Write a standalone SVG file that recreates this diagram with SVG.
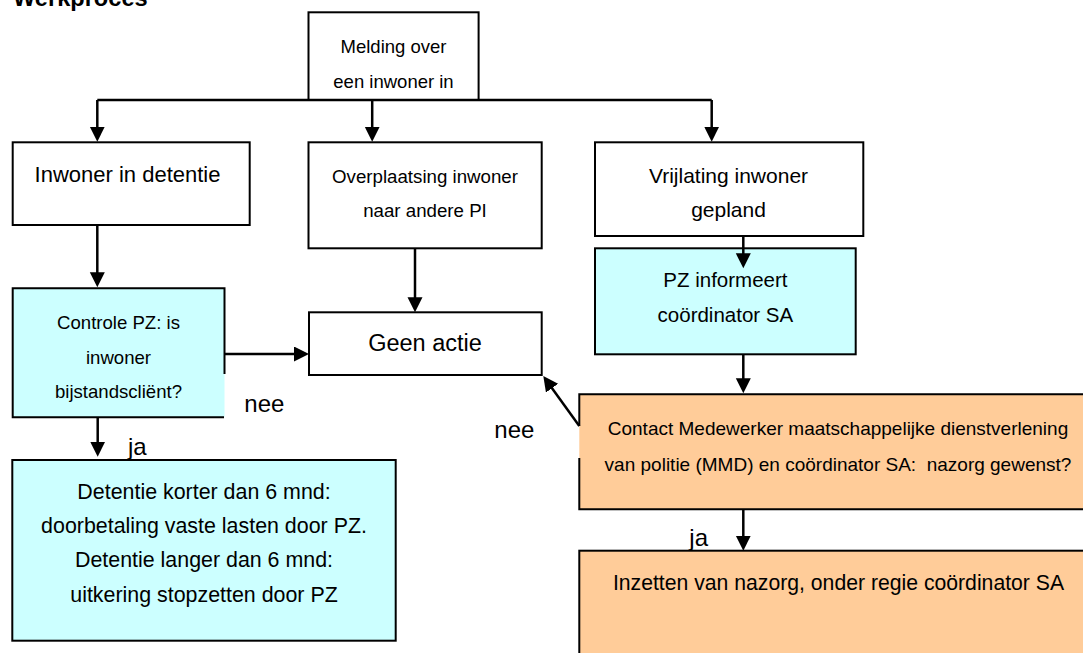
<svg xmlns="http://www.w3.org/2000/svg" width="1083" height="653" viewBox="0 0 1083 653">
<style>
  text { font-family: "Liberation Sans", Arial, sans-serif; fill: #000; }
  .c { text-anchor: middle; }
  .box { fill: #fff; stroke: #000; stroke-width: 2; }
  .cyan { fill: #ccffff; }
  .orange { fill: #ffcc99; }
  .edge { fill: none; stroke: #000; stroke-width: 2; }
  .con { fill: none; stroke: #000; stroke-width: 2.5; }
  .arr { marker-end: url(#ah); }
  .lbl { font-size: 24px; }
</style>
<defs>
  <marker id="ah" markerUnits="userSpaceOnUse" markerWidth="16" markerHeight="16" refX="9" refY="7.5" orient="auto">
    <path d="M0,0 L15,7.5 L0,15 z" fill="#000"/>
  </marker>
</defs>
<rect width="1083" height="653" fill="#fff"/>

<text x="13" y="6" style="font-weight:bold;font-size:23.6px">Werkproces</text>

<g id="melding">
  <rect class="box" x="308.5" y="12.3" width="170.1" height="87.7"/>
  <text class="c" x="393.5" y="53.3" style="font-size:18.5px">Melding over</text>
  <text class="c" x="393.5" y="88.3" style="font-size:18.5px">een inwoner in</text>
</g>

<g id="inwoner-detentie">
  <rect class="box" x="12.7" y="142.3" width="237" height="82.7"/>
  <text class="c" x="127.5" y="181.7" style="font-size:22px">Inwoner in detentie</text>
</g>

<g id="overplaatsing">
  <rect class="box" x="308.5" y="142.3" width="233.2" height="106"/>
  <text class="c" x="425" y="182.7" style="font-size:18.7px">Overplaatsing inwoner</text>
  <text class="c" x="425" y="217.3" style="font-size:18.7px">naar andere PI</text>
</g>

<g id="vrijlating">
  <rect class="box" x="595" y="142.3" width="268.3" height="93.7"/>
  <text class="c" x="728.5" y="182.7" style="font-size:21px">Vrijlating inwoner</text>
  <text class="c" x="728.5" y="217" style="font-size:21px">gepland</text>
</g>

<g id="pz-informeert">
  <rect class="box cyan" x="595" y="248.3" width="260.7" height="106"/>
  <text class="c" x="725.4" y="286.7" style="font-size:20.5px">PZ informeert</text>
  <text class="c" x="725.4" y="321.7" style="font-size:20.5px">coördinator SA</text>
</g>

<g id="controle-pz">
  <rect class="cyan" x="12.7" y="288.3" width="211.8" height="129"/>
  <path class="edge" d="M224.5,374 V288.3 H12.7 V417.3 H224"/>
  <text class="c" x="118.5" y="329.3" style="font-size:18.6px">Controle PZ: is</text>
  <text class="c" x="118.5" y="364.3" style="font-size:18.6px">inwoner</text>
  <text class="c" x="118.5" y="398.3" style="font-size:18.6px">bijstandscliënt?</text>
</g>

<g id="geen-actie">
  <rect class="box" x="309" y="312.3" width="232.7" height="62.7"/>
  <text class="c" x="425" y="351" style="font-size:23.5px">Geen actie</text>
</g>

<g id="detentie-duur">
  <rect class="box cyan" x="12.3" y="460" width="383.4" height="180.7"/>
  <text class="c" x="204" y="499.3" style="font-size:21.4px">Detentie korter dan 6 mnd:</text>
  <text class="c" x="204" y="533.3" style="font-size:21.4px">doorbetaling vaste lasten door PZ.</text>
  <text class="c" x="204" y="566.5" style="font-size:21.4px">Detentie langer dan 6 mnd:</text>
  <text class="c" x="204" y="601.7" style="font-size:21.4px">uitkering stopzetten door PZ</text>
</g>

<g id="contact-mmd">
  <rect class="orange" x="579.3" y="394.3" width="520" height="115"/>
  <path class="edge" d="M579.3,426 V394.3 H1099.3 V509.3 H579.3 V458"/>
  <text class="c" x="838" y="435" style="font-size:19px">Contact Medewerker maatschappelijke dienstverlening</text>
  <text class="c" x="838" y="470.5" style="font-size:19px;white-space:pre" xml:space="preserve">van politie (MMD) en coördinator SA:  nazorg gewenst?</text>
</g>

<g id="inzetten-nazorg">
  <rect class="box orange" x="579.3" y="550.7" width="520" height="150"/>
  <text class="c" x="838.5" y="590" style="font-size:21.2px">Inzetten van nazorg, onder regie coördinator SA</text>
</g>

<g id="connectors">
  <path class="con" d="M97.3,100 H711.7"/>
  <path class="con arr" d="M97.3,100 V135.7"/>
  <path class="con arr" d="M372.2,100 V135.7"/>
  <path class="con arr" d="M711.7,100 V135.7"/>
  <path class="con arr" d="M97.3,225 V281.3"/>
  <path class="con arr" d="M224.5,354 H303"/>
  <path class="con arr" d="M415,248.3 V306.3"/>
  <path class="con arr" d="M97.7,417.3 V450.7"/>
  <path class="con arr" d="M743.3,236 V262.3"/>
  <path class="con arr" d="M743.3,354.3 V387.3"/>
  <path class="con arr" d="M579.3,426 L546.8,380.9"/>
  <path class="con arr" d="M743.3,509.3 V544.7"/>
  <text class="lbl" x="244.3" y="411.7">nee</text>
  <text class="lbl" x="494.3" y="438.3">nee</text>
  <text class="lbl" x="128" y="455">ja</text>
  <text class="lbl" x="689.3" y="545.7">ja</text>
</g>
</svg>
